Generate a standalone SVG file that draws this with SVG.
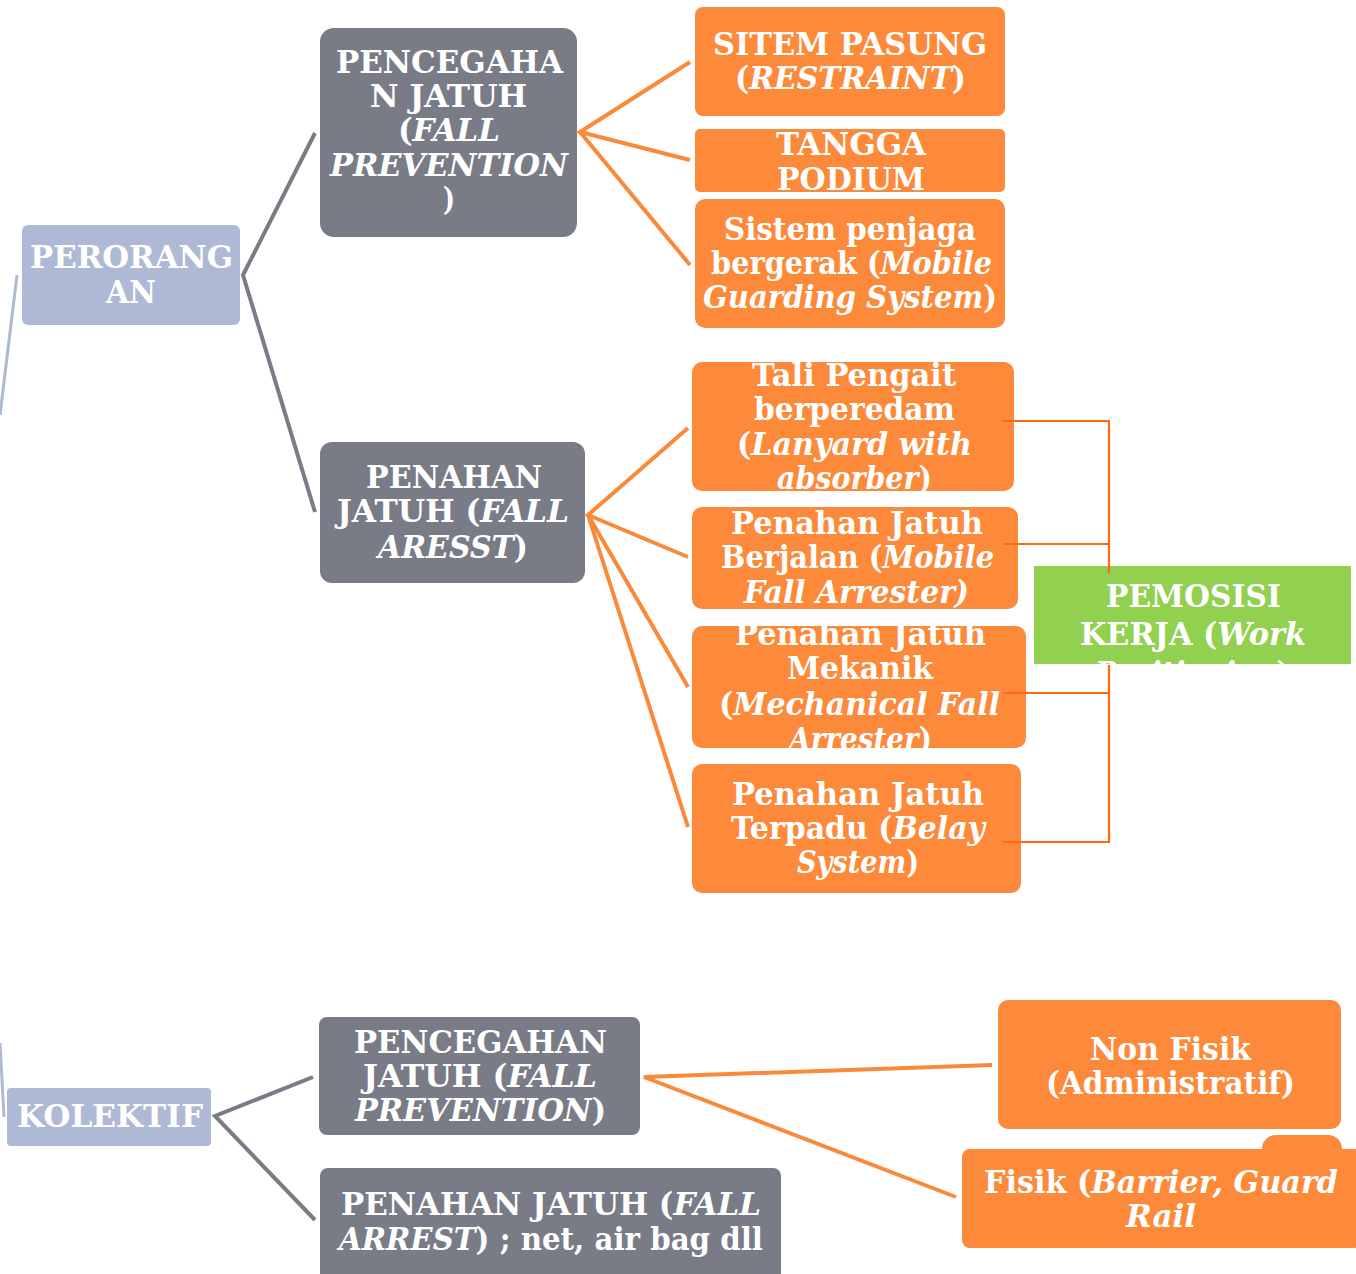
<svg xmlns="http://www.w3.org/2000/svg" width="1356" height="1274" viewBox="0 0 1356 1274">
<style>
text{font-family:"DejaVu Serif","Liberation Serif",serif;font-weight:bold;font-size:31px;fill:#ffffff}
.i{font-style:italic}
.gray{fill:#797C86}
.blue{fill:#AEB9D6}
.org{fill:#FD8A3B}
.grn{fill:#92D050}
.cg{stroke:#797C86;stroke-width:4;fill:none}
.co{stroke:#FA8A3A;stroke-width:4;fill:none}
.cb{stroke:#AEB9D6;stroke-width:3;fill:none}
.br{stroke:#FF6A10;stroke-width:2.2;fill:none}
</style>
<defs>
<clipPath id="cpTali"><rect x="692" y="362" width="322" height="129"/></clipPath>
<clipPath id="cpMek"><rect x="692" y="626" width="334" height="122"/></clipPath>
<clipPath id="cpPem"><rect x="1034" y="566" width="317" height="98"/></clipPath>
<clipPath id="cpTangga"><rect x="695" y="129" width="310" height="63"/></clipPath>
</defs>
<rect width="1356" height="1274" fill="#ffffff"/>

<g id="n-perorangan">
<rect class="blue" x="22" y="225" width="218" height="100" rx="6"/>
<text x="30" y="268" textLength="203" lengthAdjust="spacingAndGlyphs">PERORANG</text>
<text x="106" y="303" textLength="50" lengthAdjust="spacingAndGlyphs">AN</text>
</g>

<g id="n-pencegahan1">
<rect class="gray" x="320" y="28" width="257" height="209" rx="14"/>
<text x="336" y="73" textLength="227" lengthAdjust="spacingAndGlyphs">PENCEGAHA</text>
<text x="370" y="107" textLength="157" lengthAdjust="spacingAndGlyphs">N JATUH</text>
<text x="398" y="141" textLength="102" lengthAdjust="spacingAndGlyphs">(<tspan class="i">FALL</tspan></text>
<text class="i" x="330" y="176" textLength="238" lengthAdjust="spacingAndGlyphs">PREVENTION</text>
<text x="443" y="210" textLength="12" lengthAdjust="spacingAndGlyphs">)</text>
</g>

<g id="n-sitem">
<rect class="org" x="695" y="7" width="310" height="109" rx="8"/>
<text x="713" y="55" textLength="274" lengthAdjust="spacingAndGlyphs">SITEM PASUNG</text>
<text x="735" y="89" textLength="231" lengthAdjust="spacingAndGlyphs">(<tspan class="i">RESTRAINT</tspan>)</text>
</g>

<g id="n-tangga">
<rect class="org" x="695" y="129" width="310" height="63" rx="5"/>
<g clip-path="url(#cpTangga)">
<text x="776" y="155" textLength="150" lengthAdjust="spacingAndGlyphs">TANGGA</text>
<text x="777" y="190" textLength="148" lengthAdjust="spacingAndGlyphs">PODIUM</text>
</g>
</g>

<g id="n-sistem">
<rect class="org" x="695" y="199" width="310" height="129" rx="10"/>
<text x="724" y="240" textLength="252" lengthAdjust="spacingAndGlyphs">Sistem penjaga</text>
<text x="711" y="274" textLength="281" lengthAdjust="spacingAndGlyphs">bergerak (<tspan class="i">Mobile</tspan></text>
<text x="703" y="308" textLength="294" lengthAdjust="spacingAndGlyphs"><tspan class="i">Guarding System</tspan>)</text>
</g>

<g id="n-penahan1">
<rect class="gray" x="320" y="442" width="265" height="141" rx="12"/>
<text x="366" y="488" textLength="176" lengthAdjust="spacingAndGlyphs">PENAHAN</text>
<text x="337" y="522" textLength="232" lengthAdjust="spacingAndGlyphs">JATUH (<tspan class="i">FALL</tspan></text>
<text x="378" y="558" textLength="150" lengthAdjust="spacingAndGlyphs"><tspan class="i">ARESST</tspan>)</text>
</g>

<g id="n-tali">
<rect class="org" x="692" y="362" width="322" height="129" rx="10"/>
<g clip-path="url(#cpTali)">
<text x="752" y="386" textLength="204" lengthAdjust="spacingAndGlyphs">Tali Pengait</text>
<text x="754" y="420" textLength="201" lengthAdjust="spacingAndGlyphs">berperedam</text>
<text x="737" y="455" textLength="235" lengthAdjust="spacingAndGlyphs">(<tspan class="i">Lanyard with</tspan></text>
<text x="777" y="489" textLength="155" lengthAdjust="spacingAndGlyphs"><tspan class="i">absorber</tspan>)</text>
</g>
</g>

<g id="n-berjalan">
<rect class="org" x="692" y="507" width="326" height="102" rx="10"/>
<text x="731" y="534" textLength="252" lengthAdjust="spacingAndGlyphs">Penahan Jatuh</text>
<text x="721" y="568" textLength="273" lengthAdjust="spacingAndGlyphs">Berjalan (<tspan class="i">Mobile</tspan></text>
<text class="i" x="744" y="603" textLength="225" lengthAdjust="spacingAndGlyphs">Fall Arrester)</text>
</g>

<g id="n-mekanik">
<rect class="org" x="692" y="626" width="334" height="122" rx="10"/>
<g clip-path="url(#cpMek)">
<text x="735" y="645" textLength="251" lengthAdjust="spacingAndGlyphs">Penahan Jatuh</text>
<text x="787" y="679" textLength="146" lengthAdjust="spacingAndGlyphs">Mekanik</text>
<text x="719" y="715" textLength="281" lengthAdjust="spacingAndGlyphs">(<tspan class="i">Mechanical Fall</tspan></text>
<text x="789" y="750" textLength="143" lengthAdjust="spacingAndGlyphs"><tspan class="i">Arrester</tspan>)</text>
</g>
</g>

<g id="n-terpadu">
<rect class="org" x="692" y="764" width="329" height="129" rx="10"/>
<text x="732" y="805" textLength="252" lengthAdjust="spacingAndGlyphs">Penahan Jatuh</text>
<text x="731" y="839" textLength="254" lengthAdjust="spacingAndGlyphs">Terpadu (<tspan class="i">Belay</tspan></text>
<text x="797" y="873" textLength="122" lengthAdjust="spacingAndGlyphs"><tspan class="i">System</tspan>)</text>
</g>

<g id="n-pemosisi">
<rect class="grn" x="1034" y="566" width="317" height="98" rx="1"/>
<g clip-path="url(#cpPem)">
<text x="1106" y="607" textLength="175" lengthAdjust="spacingAndGlyphs">PEMOSISI</text>
<text x="1080" y="645" textLength="226" lengthAdjust="spacingAndGlyphs">KERJA (<tspan class="i">Work</tspan></text>
<text x="1095" y="684" textLength="195" lengthAdjust="spacingAndGlyphs"><tspan class="i">Positioning</tspan>)</text>
</g>
</g>

<g id="n-kolektif">
<rect class="blue" x="7" y="1088" width="204" height="58" rx="4"/>
<text x="17" y="1127" textLength="186" lengthAdjust="spacingAndGlyphs">KOLEKTIF</text>
</g>

<g id="n-pencegahan2">
<rect class="gray" x="319" y="1017" width="321" height="118" rx="8"/>
<text x="354" y="1053" textLength="253" lengthAdjust="spacingAndGlyphs">PENCEGAHAN</text>
<text x="363" y="1087" textLength="234" lengthAdjust="spacingAndGlyphs">JATUH (<tspan class="i">FALL</tspan></text>
<text x="355" y="1121" textLength="251" lengthAdjust="spacingAndGlyphs"><tspan class="i">PREVENTION</tspan>)</text>
</g>

<g id="n-penahan2">
<rect class="gray" x="320" y="1168" width="461" height="120" rx="8"/>
<text x="341" y="1215" textLength="420" lengthAdjust="spacingAndGlyphs">PENAHAN JATUH (<tspan class="i">FALL</tspan></text>
<text x="339" y="1250" textLength="424" lengthAdjust="spacingAndGlyphs"><tspan class="i">ARREST</tspan>) ; net, air bag dll</text>
</g>

<g id="n-hidden">
<rect class="org" x="1262" y="1135" width="80" height="40" rx="14"/>
</g>

<g id="n-nonfisik">
<rect class="org" x="998" y="1000" width="343" height="129" rx="10"/>
<text x="1090" y="1060" textLength="161" lengthAdjust="spacingAndGlyphs">Non Fisik</text>
<text x="1046" y="1094" textLength="249" lengthAdjust="spacingAndGlyphs">(Administratif)</text>
</g>

<g id="n-fisik">
<rect class="org" x="962" y="1149" width="400" height="99" rx="8"/>
<text x="984" y="1193" textLength="354" lengthAdjust="spacingAndGlyphs">Fisik (<tspan class="i">Barrier, Guard</tspan></text>
<text class="i" x="1126" y="1227" textLength="70" lengthAdjust="spacingAndGlyphs">Rail</text>
</g>

<g id="connectors">
<path class="cb" d="M17,275 L0,415"/>
<path class="cb" d="M0,1043 L4,1117"/>
<path class="cg" d="M315,133 L243,275 L315,512"/>
<path class="cg" d="M313,1077 L215,1116 L315,1220"/>
<path class="co" d="M690,62 L580,132 L690,160 M580,132 L690,265"/>
<path class="co" d="M688,428 L588,515 L688,557 M588,515 L688,687 M588,515 L688,827"/>
<path class="co" d="M992,1065 L644,1077 L956,1197"/>
<path class="br" d="M1003,421 H1109 V573 M1004,544 H1109 M1109,665 V842 H1003 M1004,693 H1109"/>
</g>
</svg>
